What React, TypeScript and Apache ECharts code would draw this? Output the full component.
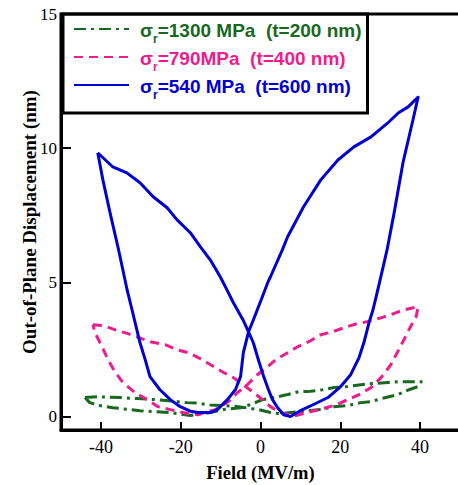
import React, { useEffect, useRef } from 'react';
import * as echarts from 'echarts';

const xTicks = [-40, -20, 0, 20, 40];
const yTicks = [0, 5, 10, 15];

const seriesNames = ['σr=1300 MPa  (t=200 nm)', 'σr=790MPa  (t=400 nm)', 'σr=540 MPa  (t=600 nm)'];
const legendTexts = ['=1300 MPa  (t=200 nm)', '=790MPa  (t=400 nm)', '=540 MPa  (t=600 nm)'];

// sigma_r = 1300 MPa (t = 200 nm): field rising, then falling
const greenUp = [
  [-44, 0.71], [-41, 0.74], [-35.2, 0.71], [-30.9, 0.67], [-25.9, 0.63], [-18.4, 0.52], [-15.8, 0.5],
  [-12.6, 0.43], [-9.3, 0.41], [-5.5, 0.37], [-2.5, 0.3], [-0.5, 0.26], [2.5, 0.15], [5, 0.11],
  [10, 0.19], [15.1, 0.26], [18.4, 0.37], [21.9, 0.41], [25.2, 0.52], [27.7, 0.56], [31.4, 0.71],
  [34.5, 0.82], [37.2, 1.0], [39.5, 1.12], [40.3, 1.3],
];
const greenDown = [
  [40.3, 1.3], [37.2, 1.3], [34.5, 1.3], [32, 1.27], [28.2, 1.23], [25.2, 1.19], [21.9, 1.12],
  [18.4, 1.08], [15.6, 1.0], [11.8, 0.93], [9.6, 0.93], [6.8, 0.82], [3.3, 0.71], [0.5, 0.63],
  [-2.5, 0.45], [-5, 0.33], [-9.3, 0.26], [-12.6, 0.15], [-17.6, 0.04], [-22.6, 0.15], [-30.2, 0.22],
  [-37, 0.33], [-40.3, 0.41], [-42.8, 0.52], [-44, 0.71],
];

// sigma_r = 790 MPa (t = 400 nm)
const pinkUp = [
  [-42, 3.42], [-39.5, 3.39], [-35.7, 3.2], [-33.2, 3.09], [-27.7, 2.79], [-23.9, 2.68], [-20.9, 2.49],
  [-18.1, 2.38], [-15.6, 2.2], [-12.6, 1.94], [-9.6, 1.67], [-6.8, 1.45], [-3.8, 1.12], [-2, 0.93],
  [0.5, 0.63], [2.5, 0.37], [5, 0.15], [8.3, 0.02], [11.8, 0.15], [14.6, 0.26], [18.4, 0.41],
  [21.9, 0.63], [24.7, 0.82], [27.7, 1.08], [30.2, 1.45], [32.7, 1.94], [34, 2.31], [35.7, 2.79],
  [37.2, 3.24], [39, 3.72], [39.5, 4.09],
];
const pinkDown = [
  [39.5, 4.09], [36, 3.98], [32.7, 3.8], [30.2, 3.68], [26.9, 3.54], [23.9, 3.45], [20.9, 3.31],
  [18.1, 3.16], [15.1, 3.05], [12.1, 2.79], [9.3, 2.6], [6.8, 2.38], [3.8, 2.12], [1.8, 1.86],
  [-0.8, 1.56], [-3.3, 1.19], [-5.8, 0.89], [-8, 0.56], [-11.3, 0.26], [-15.8, 0.07], [-19.4, 0.15],
  [-22.6, 0.26], [-25.7, 0.37], [-28.4, 0.63], [-31.4, 0.89], [-34.5, 1.27], [-36.5, 1.67],
  [-38.2, 2.12], [-39.7, 2.6], [-41.5, 3.13], [-42, 3.42],
];

// sigma_r = 540 MPa (t = 600 nm)
const blueUp = [
  [-40.8, 9.83], [-37, 9.3], [-33.5, 9.08], [-30.2, 8.71], [-26.9, 8.19], [-23.4, 7.78], [-20.9, 7.33],
  [-17.6, 6.85], [-15.1, 6.33], [-12.6, 5.84], [-10.1, 5.21], [-8.5, 4.75], [-6.8, 4.24], [-5.8, 3.98],
  [-4.2, 3.55], [-3, 3.16], [-1.8, 2.75], [-0.5, 2.1], [0.8, 1.49], [2, 1.0], [3, 0.63], [4.3, 0.33],
  [5.8, 0.07], [7.5, 0.0], [10, 0.22], [13.3, 0.45], [16.9, 0.71], [20.1, 1.12], [22.6, 1.56],
  [24.7, 2.2], [25.9, 2.75], [27.2, 3.5], [28.2, 3.98], [29.2, 4.6], [30.3, 5.3], [31.7, 6.2],
  [33.5, 7.6], [35.7, 9.45], [38.2, 11.05], [39.5, 11.9],
];
const blueDown = [
  [39.5, 11.9], [37, 11.54], [34.5, 11.31], [31.9, 10.94], [27.7, 10.42], [23.4, 10.05], [19.4, 9.56],
  [15.1, 8.82], [10.8, 7.82], [6.8, 6.7], [5.5, 6.22], [2.5, 5.21], [1.8, 4.99], [0.3, 4.4],
  [-0.8, 3.98], [-1.8, 3.6], [-3, 3.16], [-4.3, 2.38], [-5, 1.49], [-6.3, 1.0], [-8.3, 0.63],
  [-10.8, 0.26], [-12.6, 0.15], [-15.6, 0.15], [-17.6, 0.2], [-20.1, 0.37], [-22.6, 0.63],
  [-25.2, 1.0], [-27.7, 1.49], [-28.9, 2.12], [-30.2, 2.75], [-31, 3.24], [-32.2, 3.98],
  [-33.4, 4.7], [-34.5, 5.47], [-35.7, 6.3], [-37.7, 7.59], [-39.5, 8.82], [-40.8, 9.83],
];

const colors = ['#17691f', '#ee1c8e', '#0000d4'];
const dashes: any[] = [[12, 5, 3, 5], [9, 6], 'solid'];
const loops = [greenUp.concat(greenDown), pinkUp.concat(pinkDown), blueUp.concat(blueDown)];

const SERIF = '"Liberation Serif", "Times New Roman", serif';
const SANS = '"Liberation Sans", Arial, sans-serif';

export default function App() {
  const ref = useRef<HTMLDivElement>(null);
  useEffect(() => {
    if (!ref.current) return;
    const chart = echarts.init(ref.current, null, { renderer: 'svg' });
    const rich: any = {};
    colors.forEach((c, i) => {
      rich['s' + i] = { fontFamily: SANS, fontSize: 19, fontWeight: 'bold', color: c, lineHeight: 20, padding: [2, 0, 0, 6], verticalAlign: 'top' };
      rich['r' + i] = { fontFamily: SANS, fontSize: 12, fontWeight: 'bold', color: c, lineHeight: 12, padding: [14, 0, 0, 0], verticalAlign: 'top' };
      rich['t' + i] = { fontFamily: SANS, fontSize: 19, fontWeight: 'bold', color: c, lineHeight: 20, padding: [2, 0, 0, 0], verticalAlign: 'top' };
    });
    chart.setOption({
      animation: false,
      backgroundColor: '#fff',
      grid: {
        left: 61, right: 12, top: 14, bottom: 55,
        show: true, borderColor: '#000', borderWidth: 3,
        outerBoundsMode: 'none',
      },
      legend: {
        orient: 'vertical', left: 63, top: 14,
        padding: [5, 6, 12, 10], itemGap: 2, itemWidth: 55, itemHeight: 14,
        borderColor: '#000', borderWidth: 3, borderRadius: 0,
        selectedMode: false,
        itemStyle: { opacity: 0 },
        data: seriesNames,
        formatter: (n: string) => {
          const i = seriesNames.indexOf(n);
          return `{s${i}|σ}{r${i}|r}{t${i}|${legendTexts[i]}}`;
        },
        textStyle: { rich },
      },
      xAxis: {
        type: 'value', min: -50, max: 50,
        axisLine: { onZero: false, lineStyle: { color: '#000', width: 3 } },
        axisTick: { inside: true, length: 8, customValues: xTicks, lineStyle: { color: '#000', width: 2 } },
        axisLabel: { customValues: xTicks, margin: 8, fontFamily: SERIF, fontSize: 18, color: '#000' },
        splitLine: { show: false },
        name: 'Field (MV/m)', nameLocation: 'middle', nameGap: 33, nameMoveOverlap: false,
        nameTextStyle: { fontFamily: SERIF, fontSize: 18.5, fontWeight: 'bold', color: '#000' },
      },
      yAxis: {
        type: 'value', min: -0.5, max: 15,
        axisLine: { onZero: false, lineStyle: { color: '#000', width: 3 } },
        axisTick: { inside: true, length: 10, customValues: yTicks, lineStyle: { color: '#000', width: 2 } },
        axisLabel: { customValues: yTicks, margin: 4, fontFamily: SERIF, fontSize: 17, color: '#000' },
        splitLine: { show: false },
        name: 'Out-of-Plane Displacement (nm)', nameLocation: 'middle', nameGap: 22, nameMoveOverlap: false,
        nameTextStyle: { fontFamily: SERIF, fontSize: 19, fontWeight: 'bold', color: '#000' },
      },
      series: loops.map((d, i) => ({
        name: seriesNames[i],
        type: 'line',
        data: d,
        symbol: 'none',
        smooth: false,
        lineStyle: { color: colors[i], width: 3, type: dashes[i], cap: 'butt', join: 'round' },
        itemStyle: { color: colors[i] },
      })),
    });
    return () => chart.dispose();
  }, []);
  return (
    <div style={{ position: 'absolute', left: 0, top: 0, width: 458, height: 485, overflow: 'hidden' }}>
      <div ref={ref} style={{ width: 472, height: 485 }} />
    </div>
  );
}
